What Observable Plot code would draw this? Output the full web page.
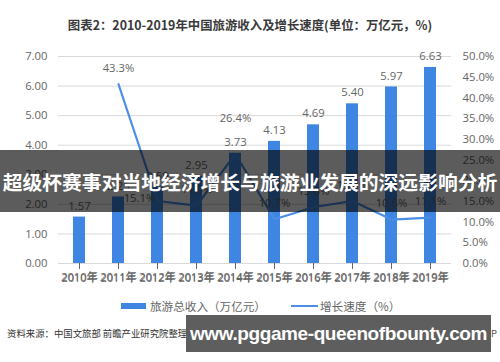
<!DOCTYPE html>
<html><head><meta charset="utf-8">
<script src="https://cdn.jsdelivr.net/npm/d3@7"></script>
<script src="https://cdn.jsdelivr.net/npm/@observablehq/plot@0.6"></script>
<style>
html,body{margin:0;padding:0;background:#fff;}
#wrap{position:relative;width:500px;height:362px;overflow:hidden;font-family:"Open Sans","Noto Sans CJK SC",sans-serif;}
#title{position:absolute;top:15px;left:0;width:500px;text-align:center;font-family:"Noto Sans CJK SC",sans-serif;font-size:12.4px;font-weight:bold;color:#3a3a3a;line-height:20px;}
.chart{position:absolute;left:0;top:40px;}
.leg{position:absolute;top:298px;font-family:"Noto Sans CJK SC",sans-serif;font-size:11.6px;color:#666;line-height:16px;}
#source{position:absolute;left:7px;top:326px;font-family:"Noto Sans CJK SC",sans-serif;font-size:9.4px;color:#333;line-height:14px;}
#source2{position:absolute;right:3px;top:326px;font-family:"Noto Sans CJK SC",sans-serif;font-size:9.4px;color:#555;line-height:14px;}
#banner{position:absolute;left:0;top:150px;width:500px;height:62px;background:rgba(0,0,0,0.64);color:#fff;font-family:"Noto Sans CJK SC",sans-serif;font-size:19.8px;font-weight:bold;display:flex;align-items:center;justify-content:center;white-space:nowrap;}
#url{position:absolute;left:186px;top:315px;width:305px;height:37px;background:#5e5e5e;color:#fff;font-family:"Liberation Sans",Arial,sans-serif;font-size:19px;letter-spacing:-0.4px;font-weight:bold;display:flex;align-items:center;justify-content:center;white-space:nowrap;overflow:hidden;}
</style>
</head><body>
<div id="wrap"></div>
<script>
const titleText = "图表2：2010-2019年中国旅游收入及增长速度(单位：万亿元，%)";
const years = ["2010年","2011年","2012年","2013年","2014年","2015年","2016年","2017年","2018年","2019年"];
const revenue = [1.57, 2.25, 2.59, 2.95, 3.73, 4.13, 4.69, 5.40, 5.97, 6.63];
const growth = [null, 43.3, 15.1, 14.0, 26.4, 10.7, 13.6, 15.1, 10.6, 11.1];
const leftTicks = [0, 1, 2, 3, 4, 5, 6, 7];
const rightTicks = [0, 5, 10, 15, 20, 25, 30, 35, 40, 45, 50];
const legendLabels = ["旅游总收入（万亿元）", "增长速度（%）"];
const sourceText = "资料来源：中国文旅部 前瞻产业研究院整理";
const sourceRight = "@前瞻经济学人APP";
const bannerText = "超级杯赛事对当地经济增长与旅游业发展的深远影响分析";
const urlText = "www.pggame-queenofbounty.com";

const barColor = "#3f86e2";
const lineColor = "#4a8ee8";
const textColor = "#666666";

const rows = years.map((y, i) => ({year: y, rev: revenue[i], g: growth[i]}));
const lineRows = rows.filter(d => d.g != null);

const wrap = document.getElementById("wrap");
const font = '"Open Sans","Noto Sans CJK SC",sans-serif';
const dims = {width: 500, height: 250, marginTop: 16, marginBottom: 27, marginLeft: 58, marginRight: 49};
const xScale = {type: "band", domain: years, paddingInner: 0.69, paddingOuter: 0.345, label: null};

const t = document.createElement("div");
t.id = "title"; t.textContent = titleText; wrap.appendChild(t);

const p1 = Plot.plot({
  ...dims,
  style: {fontFamily: font, fontSize: "11.3px", color: textColor, background: "transparent", overflow: "visible"},
  x: xScale,
  y: {domain: [0, 7], label: null},
  marks: [
    Plot.ruleY(leftTicks, {stroke: "#d9d9d9", strokeWidth: 1}),
    Plot.barY(rows, {x: "year", y: "rev", fill: barColor}),
    Plot.text(rows, {x: "year", y: "rev", text: d => d.rev.toFixed(2), dy: -11, fill: textColor, fontSize: 11.3}),
    Plot.axisY(leftTicks, {tickSize: 0, tickPadding: 11, tickFormat: d => d.toFixed(2), label: null, fill: textColor, fontSize: 11.3}),
    Plot.axisX({tickSize: 0, tickPadding: 11, label: null, fill: textColor, fontSize: 10.8})
  ]
});
p1.classList.add("chart");
wrap.appendChild(p1);

const normal = lineRows.filter(d => d.year !== "2012年" && d.year !== "2014年");
const p2 = Plot.plot({
  ...dims,
  style: {fontFamily: font, fontSize: "11.3px", color: textColor, background: "transparent", overflow: "visible"},
  x: xScale,
  y: {domain: [0, 50], label: null},
  marks: [
    Plot.line(lineRows, {x: "year", y: "g", stroke: lineColor, strokeWidth: 2.2}),
    Plot.text(normal, {x: "year", y: "g", text: d => d.g.toFixed(1) + "%", dy: -16, fill: textColor, fontSize: 11.3}),
    Plot.text(lineRows.filter(d => d.year === "2012年"), {x: "year", y: "g", text: d => d.g.toFixed(1) + "%", dx: -18, dy: -3, fill: textColor, fontSize: 11.3}),
    Plot.text(lineRows.filter(d => d.year === "2014年"), {x: "year", y: "g", text: d => d.g.toFixed(1) + "%", dy: -36, fill: textColor, fontSize: 11.3}),
    Plot.axisY(rightTicks, {anchor: "right", tickSize: 0, tickPadding: 11, tickFormat: d => d.toFixed(1) + "%", label: null, fill: textColor, fontSize: 11.3})
  ]
});
p2.classList.add("chart");
wrap.appendChild(p2);

// legend
function el(cls, style, html) { const d = document.createElement("div"); d.className = cls; Object.assign(d.style, style); if (html != null) d.textContent = html; wrap.appendChild(d); return d; }
el("", {position: "absolute", left: "121px", top: "303px", width: "25px", height: "6px", background: barColor});
el("leg", {left: "150px"}, legendLabels[0]);
el("", {position: "absolute", left: "291px", top: "305px", width: "27px", height: "2px", background: lineColor});
el("leg", {left: "320px"}, legendLabels[1]);

const s = document.createElement("div"); s.id = "source"; s.textContent = sourceText; wrap.appendChild(s);
const s2 = document.createElement("div"); s2.id = "source2"; s2.textContent = sourceRight; wrap.appendChild(s2);
const b = document.createElement("div"); b.id = "banner"; b.textContent = bannerText; wrap.appendChild(b);
const u = document.createElement("div"); u.id = "url"; u.textContent = urlText; wrap.appendChild(u);
</script>
</body></html>
